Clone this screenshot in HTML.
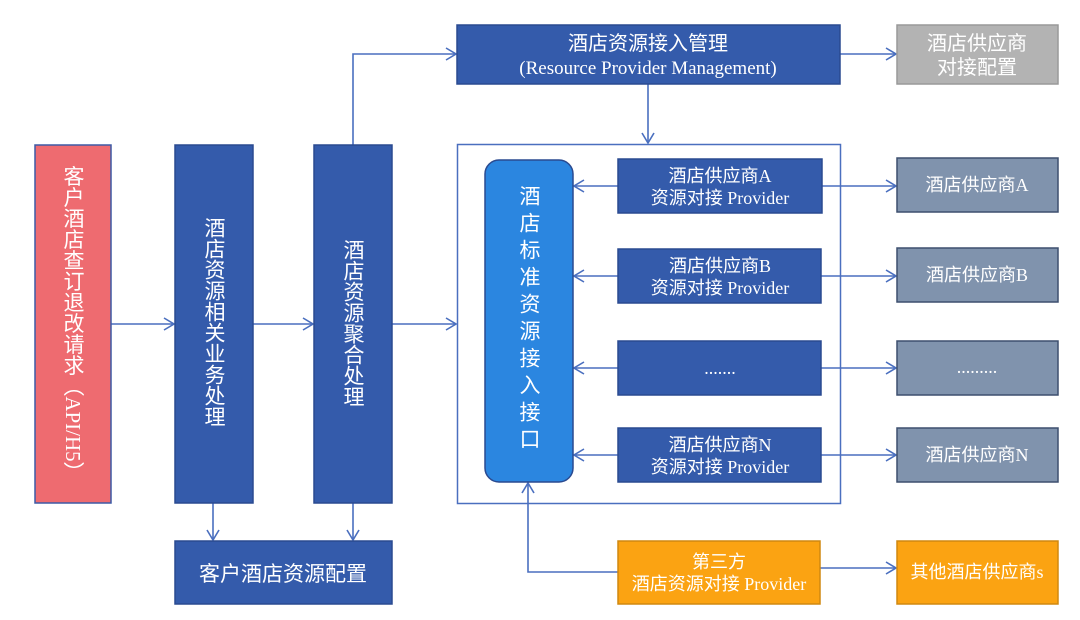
<!DOCTYPE html>
<html><head><meta charset="utf-8"><style>
html,body{margin:0;padding:0;background:#fff;}
svg text{font-family:"Liberation Serif","Noto Sans CJK SC",sans-serif;fill:#fff;}
</style></head><body>
<svg width="1080" height="615" viewBox="0 0 1080 615" xmlns="http://www.w3.org/2000/svg">
<defs>
<marker id="a" markerWidth="12" markerHeight="14" refX="11" refY="7" orient="auto" markerUnits="userSpaceOnUse">
<path d="M1,1 L11,7 L1,13" fill="none" stroke="#4a6fbf" stroke-width="1.6"/>
</marker>
</defs>
<g stroke="#4a6fbf" stroke-width="1.6" fill="none">
<line x1="111" y1="324" x2="174" y2="324" marker-end="url(#a)"/>
<line x1="253" y1="324" x2="313" y2="324" marker-end="url(#a)"/>
<line x1="392" y1="324" x2="456" y2="324" marker-end="url(#a)"/>
<line x1="213" y1="503" x2="213" y2="540" marker-end="url(#a)"/>
<line x1="353" y1="503" x2="353" y2="540" marker-end="url(#a)"/>
<polyline points="353,145 353,54 456,54" marker-end="url(#a)"/>
<line x1="840" y1="54" x2="896" y2="54" marker-end="url(#a)"/>
<line x1="648" y1="84" x2="648" y2="143" marker-end="url(#a)"/>
<line x1="618" y1="186" x2="574" y2="186" marker-end="url(#a)"/>
<line x1="618" y1="276" x2="574" y2="276" marker-end="url(#a)"/>
<line x1="618" y1="368" x2="574" y2="368" marker-end="url(#a)"/>
<line x1="618" y1="455" x2="574" y2="455" marker-end="url(#a)"/>
<line x1="822" y1="186" x2="896" y2="186" marker-end="url(#a)"/>
<line x1="821" y1="276" x2="896" y2="276" marker-end="url(#a)"/>
<line x1="821" y1="368" x2="896" y2="368" marker-end="url(#a)"/>
<line x1="821" y1="455" x2="896" y2="455" marker-end="url(#a)"/>
<polyline points="618,572 528,572 528,483" marker-end="url(#a)"/>
<line x1="820" y1="568" x2="896" y2="568" marker-end="url(#a)"/>
<rect x="457.5" y="144.5" width="383" height="359" stroke-width="1.5"/>
</g>
<g stroke-width="1.5">
<rect x="35" y="145" width="76" height="358" fill="#ee6b70" stroke="#3d5aa6"/>
<rect x="175" y="145" width="78" height="358" fill="#345bab" stroke="#2a4a90"/>
<rect x="314" y="145" width="78" height="358" fill="#345bab" stroke="#2a4a90"/>
<rect x="175" y="541" width="217" height="63" fill="#345bab" stroke="#2a4a90"/>
<rect x="457" y="25" width="383" height="59" fill="#345bab" stroke="#2a4a90"/>
<rect x="897" y="25" width="161" height="59" fill="#b3b3b3" stroke="#999"/>
<rect x="485" y="160" width="88" height="322" rx="14" fill="#2b86e0" stroke="#2a4a90"/>
<rect x="618" y="159" width="204" height="54" fill="#345bab" stroke="#2a4a90"/>
<rect x="618" y="249" width="203" height="54" fill="#345bab" stroke="#2a4a90"/>
<rect x="618" y="341" width="203" height="54" fill="#345bab" stroke="#2a4a90"/>
<rect x="618" y="428" width="203" height="54" fill="#345bab" stroke="#2a4a90"/>
<rect x="897" y="158" width="161" height="54" fill="#8093ad" stroke="#3d4f6e"/>
<rect x="897" y="248" width="161" height="54" fill="#8093ad" stroke="#3d4f6e"/>
<rect x="897" y="341" width="161" height="54" fill="#8093ad" stroke="#3d4f6e"/>
<rect x="897" y="428" width="161" height="54" fill="#8093ad" stroke="#3d4f6e"/>
<rect x="618" y="541" width="202" height="63" fill="#fba312" stroke="#d08810"/>
<rect x="897" y="541" width="161" height="63" fill="#fba312" stroke="#d08810"/>
</g>
<g font-size="21" text-anchor="middle">
<text x="73" y="324" style="writing-mode:vertical-rl">客户酒店查订退改请求（API/H5）</text>
<text x="214" y="322" style="writing-mode:vertical-rl">酒店资源相关业务处理</text>
<text x="353" y="323" style="writing-mode:vertical-rl">酒店资源聚合处理</text>
<text x="283" y="581" font-size="21">客户酒店资源配置</text>
<text x="529" y="320" style="writing-mode:vertical-rl" font-size="21" letter-spacing="6">酒店标准资源接入接口</text>
</g>
<g text-anchor="middle" font-size="18">
<text x="648" y="50" font-size="20">酒店资源接入管理</text>
<text x="648" y="74" font-size="19">(Resource Provider Management)</text>
<text x="977" y="50" font-size="20">酒店供应商</text>
<text x="977" y="74" font-size="20">对接配置</text>
<text x="720" y="182">酒店供应商A</text>
<text x="720" y="204">资源对接 Provider</text>
<text x="720" y="272">酒店供应商B</text>
<text x="720" y="294">资源对接 Provider</text>
<text x="720" y="374">.......</text>
<text x="720" y="451">酒店供应商N</text>
<text x="720" y="473">资源对接 Provider</text>
<text x="977" y="191">酒店供应商A</text>
<text x="977" y="281">酒店供应商B</text>
<text x="977" y="373">.........</text>
<text x="977" y="461">酒店供应商N</text>
<text x="719" y="568">第三方</text>
<text x="719" y="590">酒店资源对接 Provider</text>
<text x="977" y="578">其他酒店供应商s</text>
</g>
</svg>
</body></html>
